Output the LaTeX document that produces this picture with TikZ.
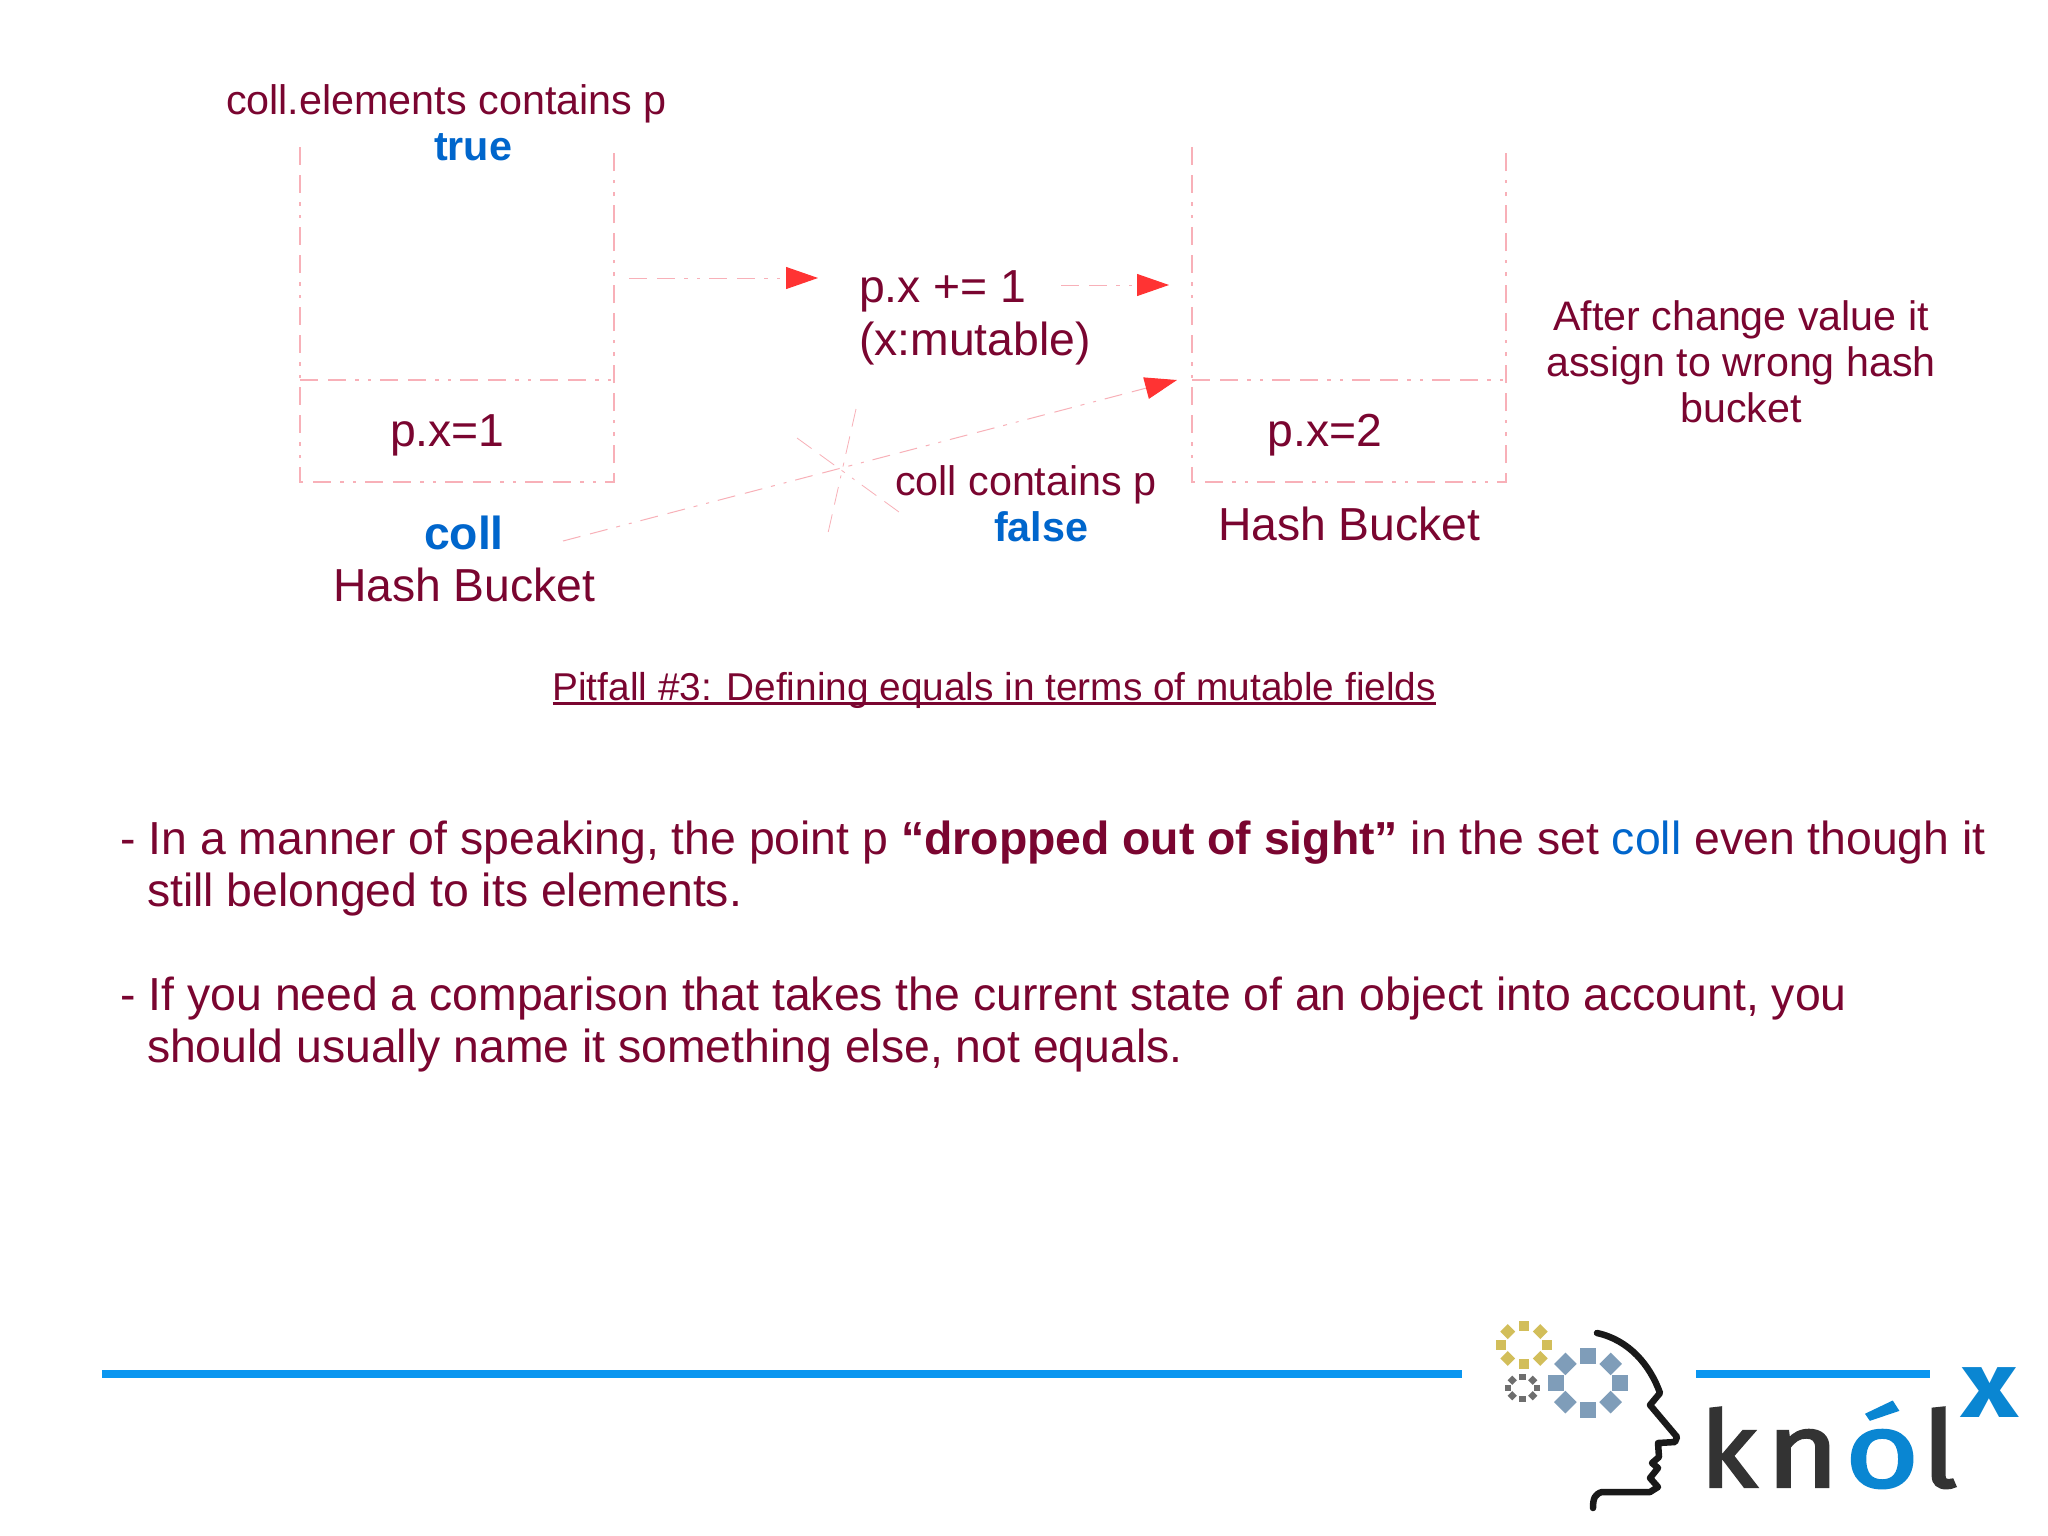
\documentclass[tikz,border=0pt]{standalone}
\usepackage{fontspec}
\setmainfont{Liberation Sans}
\newfontfamily\logofont[RawFeature={embolden=2.2}]{Fira Sans}
\newfontfamily\logofontb{Fira Sans}
\usetikzlibrary{arrows.meta}
\definecolor{maroonT}{HTML}{7A0530}
\definecolor{blueT}{HTML}{0066CC}
\definecolor{pinkL}{HTML}{F8B0B8}
\definecolor{redH}{HTML}{FF3333}
\definecolor{lineB}{HTML}{0A96F0}
\definecolor{logoB}{HTML}{0A86D2}
\definecolor{logoD}{HTML}{333333}
\tikzset{
 x=1pt,y=-1pt,
 txt/.style={anchor=base west,inner sep=0pt,outer sep=0pt,text=maroonT},
 ctr/.style={anchor=base,inner sep=0pt,outer sep=0pt,text=maroonT,align=center},
 dd/.style={draw=pinkL,line width=1.2pt,dash pattern=on 18pt off 10pt on 18pt off 9pt on 4pt off 9pt on 3pt off 9pt},
 fine/.style={draw=pinkL,line width=0.8pt,dash pattern=on 18pt off 10pt on 18pt off 9pt on 4pt off 9pt on 3pt off 9pt},
 arr/.style={draw=pinkL,line width=1pt,dash pattern=on 18pt off 10pt on 18pt off 9pt on 4pt off 9pt on 3pt off 9pt,-{Triangle[length=32pt,width=22pt,fill=redH,color=redH]}},
 rule/.style={draw=lineB,line width=7.5pt},
}
\newcommand{\fs}[1]{\fontsize{#1}{#1}\selectfont}
\newcommand{\ulb}[1]{\setbox0\hbox{#1}\rlap{\rule[-4.5pt]{\wd0}{2.5pt}}\box0}
\newcommand{\gearring}[7]{% cx cy rx ry side color offset
  \foreach \a in {0,45,...,315}{
    \fill[#6,rotate around={\a+#7:({#1+#3*cos(\a+#7)},{#2+#4*sin(\a+#7)})}]
      ({#1+#3*cos(\a+#7)-#5/2},{#2+#4*sin(\a+#7)-#5/2}) rectangle ++(#5,#5);
  }}
\begin{document}
\begin{tikzpicture}
\useasboundingbox[fill=white] (0,0) rectangle (2048,1535);
% coordinates
\coordinate (ltl) at (300,147); \coordinate (ltr) at (614,147);
\coordinate (lml) at (300,380); \coordinate (lmr) at (614,380);
\coordinate (lbl) at (300,482); \coordinate (lbr) at (614,482);
\coordinate (rtl) at (1192,147); \coordinate (rtr) at (1506,147);
\coordinate (rml) at (1192,380); \coordinate (rmr) at (1506,380);
\coordinate (rbl) at (1192,482); \coordinate (rbr) at (1506,482);
\coordinate (a1s) at (629,278); \coordinate (a1e) at (818,278);
\coordinate (a2s) at (1061,285); \coordinate (a2e) at (1169,285);
\coordinate (a3s) at (563,541); \coordinate (a3e) at (1177,380);
\coordinate (x1s) at (856,409); \coordinate (x1e) at (828,533);
\coordinate (x2s) at (797,438); \coordinate (x2e) at (899,512);
% boxes
\draw[dd] (ltl) -- (lbl) -- (lbr) -- (ltr);
\draw[dd] (lml) -- (lmr);
\draw[dd] (rtl) -- (rbl) -- (rbr) -- (rtr);
\draw[dd] (rml) -- (rmr);
% arrows
\draw[arr] (a1s) -- (a1e);
\draw[arr] (a2s) -- (a2e);
\draw[arr] (a3s) -- (a3e);
\draw[fine] (x1s) -- (x1e);
\draw[fine] (x2s) -- (x2e);
% diagram text
\node[txt] (t1) at (226,114) {\fs{41.3}coll.elements contains p};
\node[txt,text=blueT] (t2) at (434,160) {\fs{41.3}\bfseries true};
\node[txt] (t3) at (390,446) {\fs{46.3}p.x=1};
\node[txt] (t4) at (1267.5,446) {\fs{46.3}p.x=2};
\node[txt] (t5) at (859,302) {\fs{46.3}p.x += 1};
\node[txt] (t6) at (859,355) {\fs{46.3}(x:mutable)};
\node[txt] (t7) at (895,495) {\fs{41.3}coll contains p};
\node[txt,text=blueT] (t8) at (994,541) {\fs{41.3}\bfseries false};
\node[txt,text=blueT] (t9) at (424,549) {\fs{46.3}\bfseries coll};
\node[txt] (t10) at (333,601) {\fs{46.3}Hash Bucket};
\node[txt] (t11) at (1218,540) {\fs{46.3}Hash Bucket};
\node[ctr] (t12) at (1741,330) {\fs{41.2}After change value it};
\node[ctr] (t13) at (1741,376) {\fs{41.2}assign to wrong hash};
\node[ctr] (t14) at (1741,422) {\fs{41.2}bucket};
\node[txt] (t15) at (552.5,700) {\fs{38.8}\ulb{Pitfall \#3: Defining equals in terms of mutable fields}};
% body
\node[txt] (b1) at (120.5,854) {\fs{46.35}- In a manner of speaking, the point p {\bfseries “dropped out of sight”} in the set {\color{blueT}coll} even though it};
\node[txt] (b2) at (147,906) {\fs{46.35}still belonged to its elements.};
\node[txt] (b3) at (120.5,1010) {\fs{46.35}- If you need a comparison that takes the current state of an object into account, you};
\node[txt] (b4) at (147,1062) {\fs{46.35}should usually name it something else, not equals.};
% rules
\coordinate (r1s) at (102,1374); \coordinate (r1e) at (1462,1374);
\coordinate (r2s) at (1696,1374); \coordinate (r2e) at (1930,1374);
\draw[rule] (r1s) -- (r1e);
\draw[rule] (r2s) -- (r2e);
% logo gears
\definecolor{gearG}{HTML}{D2BE5A}
\definecolor{gearB}{HTML}{7F9DB9}
\definecolor{gearD}{HTML}{6E6E6E}
\gearring{1524}{1345}{23}{19}{10.5}{gearG}{0}
\gearring{1588}{1383}{32}{27}{16}{gearB}{0}
\gearring{1522.5}{1388}{14.5}{11}{6.5}{gearD}{0}
% head
\draw[black!90,line width=6.5pt,line cap=round,line join=round]
 (1597,1333) .. controls (1629,1340) and (1650,1365) .. (1660,1393)
 -- (1650,1405) -- (1677,1437) -- (1675,1442) -- (1658,1443) -- (1659,1457)
 -- (1652,1463) -- (1658,1468) -- (1650,1478) -- (1658,1487) -- (1650,1492)
 -- (1602,1492) .. controls (1595,1494) and (1593,1498) .. (1593,1508);
% logo text
\node[txt,text=logoD,xscale=1.05] (k) at (1700,1487) {\logofont\fs{106}k};
\node[txt,text=logoD,xscale=1.18] (n) at (1766,1487) {\logofont\fs{106}n};
\node[txt,text=logoB,xscale=1.2] (o) at (1845,1487) {\logofont\fs{106}ó};
\node[txt,text=logoD,xscale=1.15] (l) at (1922,1487) {\logofont\fs{106}l};
\node[txt,text=logoB,xscale=1.18] (xx) at (1961,1417) {\logofontb\bfseries\fs{94}x};
\end{tikzpicture}
\end{document}
